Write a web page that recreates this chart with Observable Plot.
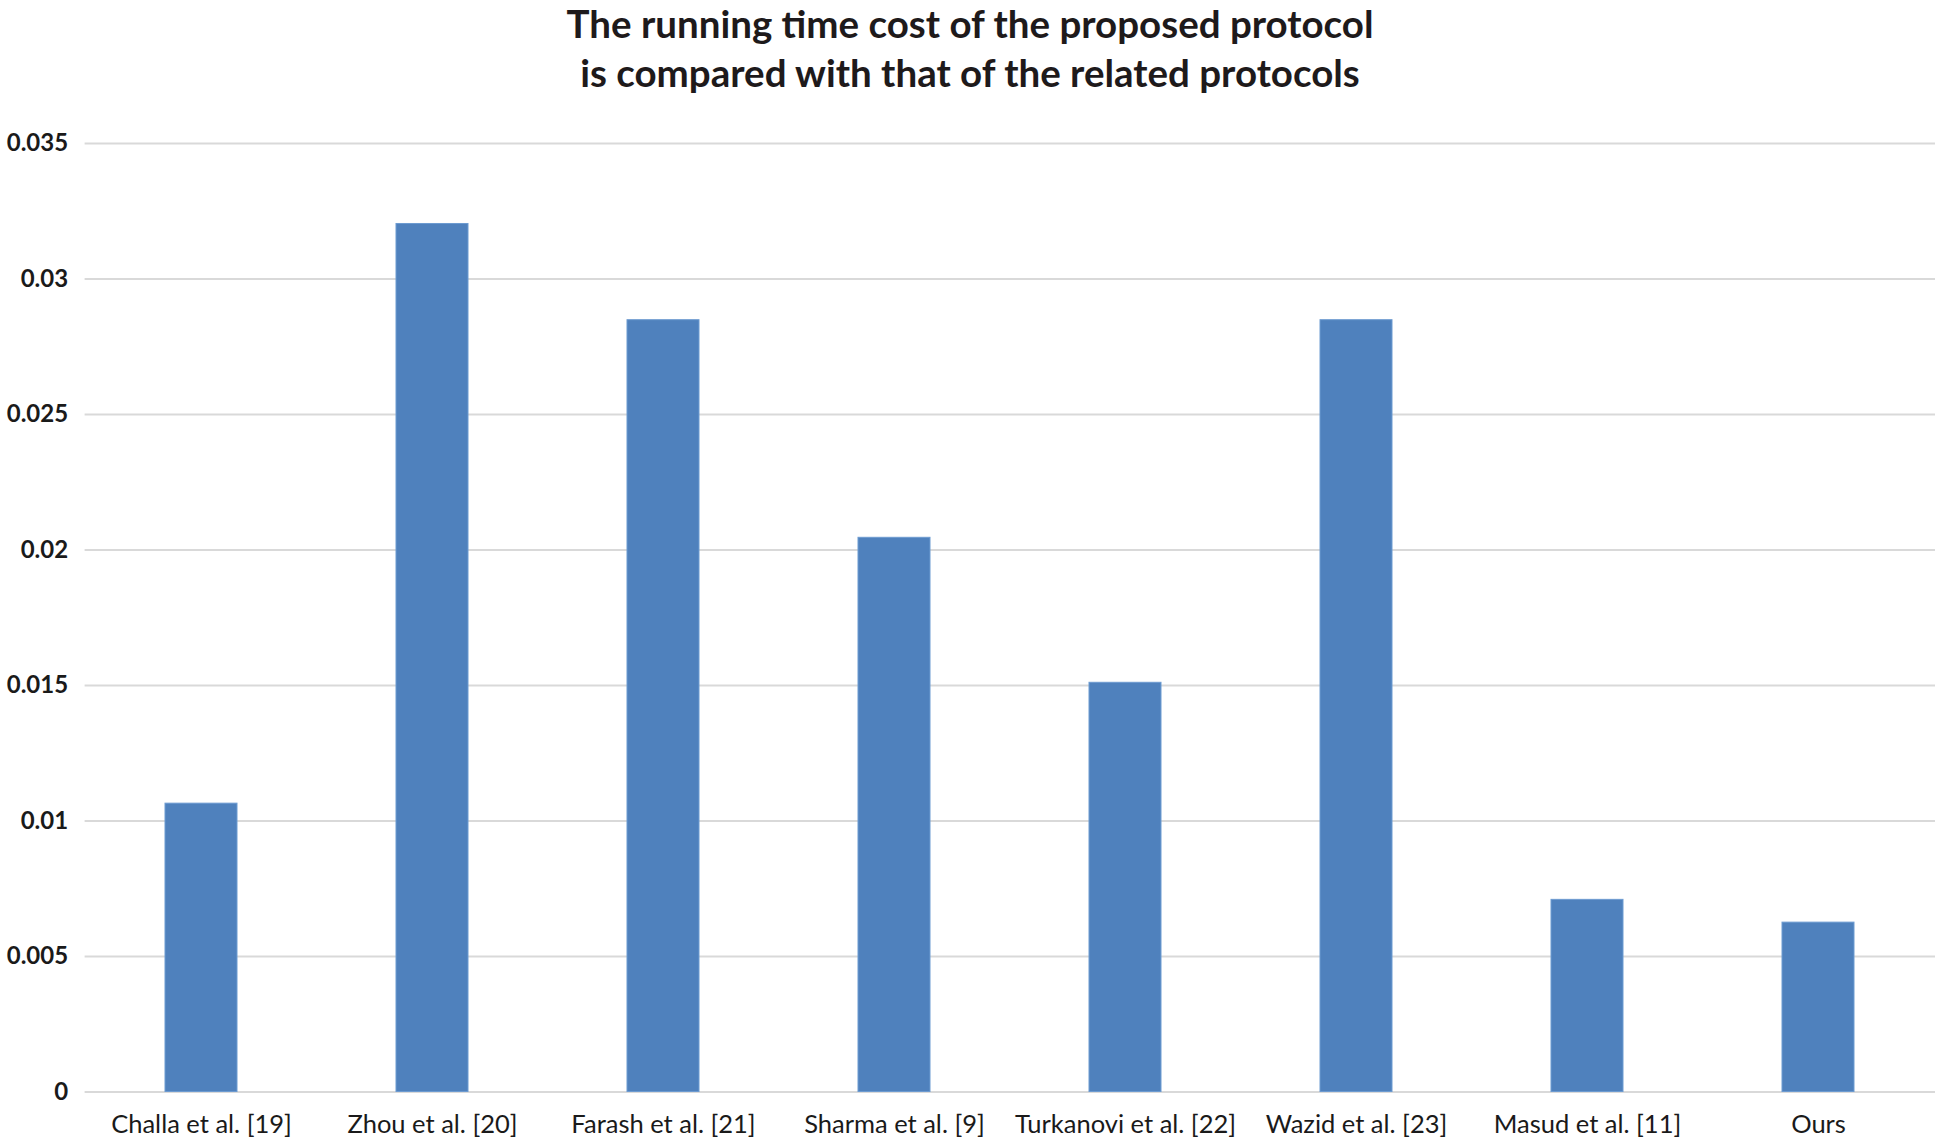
<!DOCTYPE html>
<html>
<head>
<meta charset="utf-8">
<script src="https://cdn.jsdelivr.net/npm/d3@7"></script>
<script src="https://cdn.jsdelivr.net/npm/@observablehq/plot@0.6"></script>
<style>
  html, body { margin: 0; padding: 0; background: #ffffff; }
  #wrap { width: 1940px; height: 1143px; overflow: hidden; }
  #title {
    width: 1940px; height: 100px; box-sizing: border-box; padding-top: 0;
    text-align: center; font-family: Lato, "Open Sans", sans-serif; font-weight: 700;
    font-size: 38.5px; line-height: 49px; color: #1e1a1b; position: relative; top: -1px;
  }
  #chart svg { display: block; }
</style>
</head>
<body>
<div id="wrap">
  <div id="title">The running time cost of the proposed protocol<br>is compared with that of the related protocols</div>
  <div id="chart" style="position: relative; top: -2px;"></div>
</div>
<script>
const categories = ["Challa et al. [19]", "Zhou et al. [20]", "Farash et al. [21]", "Sharma et al. [9]", "Turkanovi et al. [22]", "Wazid et al. [23]", "Masud et al. [11]", "Ours"];
const runningTime = [0.01064, 0.03203, 0.02848, 0.02045, 0.0151, 0.02848, 0.00709, 0.00625];
const yTicks = [0, 0.005, 0.01, 0.015, 0.02, 0.025, 0.03, 0.035];
const yTickLabels = ["0", "0.005", "0.01", "0.015", "0.02", "0.025", "0.03", "0.035"];

const data = categories.map((name, i) => ({name, value: runningTime[i]}));

const chart = Plot.plot({
  width: 1940,
  height: 1045,
  marginTop: 45,
  marginBottom: 51.5,
  marginLeft: 84.6,
  marginRight: 5,
  style: {fontFamily: "Lato, 'Open Sans', sans-serif", color: "#1a1a1a", background: "#ffffff"},
  x: {domain: categories, paddingInner: 0.687, paddingOuter: 0.3435, label: null},
  y: {domain: [0, 0.035], label: null},
  marks: [
    Plot.ruleY(yTicks, {stroke: "#d9d9d9", strokeWidth: 2}),
    Plot.barY(data, {x: "name", y: "value", fill: "#4f81bd", stroke: "#6d9bd1", strokeWidth: 1}),
    Plot.axisY(yTicks, {tickSize: 0, tickPadding: 17, fontSize: 24, fontWeight: "bold",
      tickFormat: d => yTickLabels[yTicks.indexOf(d)]}),
    Plot.axisX({tickSize: 0, tickPadding: 23, fontSize: 25.5})
  ]
});
document.getElementById("chart").appendChild(chart);
</script>
</body>
</html>
